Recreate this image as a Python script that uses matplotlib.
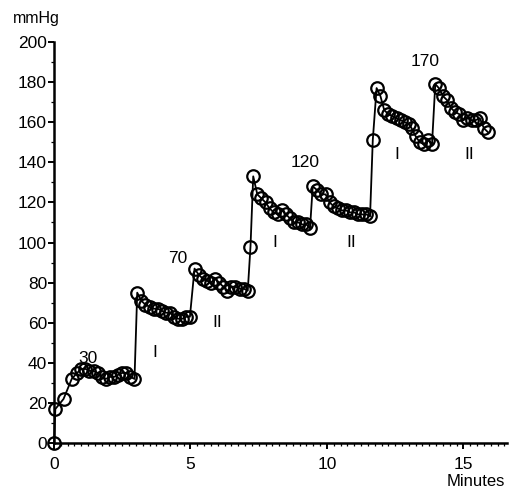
import matplotlib.pyplot as plt
from matplotlib.ticker import MultipleLocator

plt.rcParams['font.family'] = ['Liberation Sans', 'DejaVu Sans']

# time in minutes, pressure in mmHg
minutes = [0, 0.05, 0.35, 0.65, 0.85, 1.0, 1.15, 1.3, 1.45, 1.6, 1.75, 1.9, 2.05,
           2.2, 2.35, 2.5, 2.65, 2.8, 2.95,
           3.05, 3.2, 3.35, 3.5, 3.65, 3.8, 3.95, 4.1, 4.25, 4.4, 4.55, 4.7, 4.85, 4.98,
           5.15, 5.3, 5.45, 5.6, 5.75, 5.9, 6.05, 6.2, 6.35, 6.5, 6.65, 6.8, 6.95, 7.1,
           7.2, 7.3,
           7.45, 7.6, 7.75, 7.9, 8.05, 8.2, 8.35, 8.5, 8.65, 8.8, 8.95, 9.1, 9.25, 9.38,
           9.48, 9.65, 9.8, 9.95, 10.1, 10.25, 10.4, 10.55, 10.7, 10.85, 11.0, 11.15,
           11.3, 11.45, 11.58,
           11.68, 11.82, 11.96,
           12.1, 12.25, 12.4, 12.55, 12.7, 12.85, 13.0, 13.1, 13.25, 13.4, 13.55, 13.7, 13.85,
           13.97, 14.1, 14.25, 14.4, 14.55, 14.7, 14.85, 15.0, 15.15, 15.3, 15.45, 15.6,
           15.75, 15.9]
pressure = [0, 17, 22, 32, 35, 37, 37, 36, 36, 35, 33, 32, 33,
            33, 34, 35, 35, 33, 32,
            75, 71, 69, 68, 67, 67, 66, 65, 65, 63, 62, 62, 63, 63,
            87, 84, 82, 81, 80, 82, 80, 78, 76, 78, 78, 77, 77, 76,
            98, 133,
            124, 122, 120, 117, 115, 114, 116, 114, 112, 110, 110, 109, 109, 107,
            128, 126, 124, 124, 120, 118, 117, 116, 116, 115, 115, 114,
            114, 114, 113,
            151, 177, 173,
            166, 164, 163, 162, 161, 160, 159, 157, 153, 150, 149, 151, 149,
            179, 177, 173, 171, 167, 165, 164, 161, 162, 161, 161, 162,
            157, 155]

step_labels = ['30', '70', '120', '170']
step_x = [1.25, 4.55, 9.2, 13.6]
step_y = [42, 92, 140, 190]

phase_labels = ['I', 'II', 'I', 'II', 'I', 'II']
phase_x = [3.7, 6.0, 8.1, 10.9, 12.55, 15.2]
phase_y = [45, 60, 100, 100, 144, 144]

fig = plt.figure(figsize=(5.19, 4.99), dpi=100)
ax = fig.add_axes([0.104, 0.112, 0.873, 0.804])

ax.plot(minutes, pressure, color='black', lw=1.3, marker='o', ms=9,
        mfc='none', mec='black', mew=1.6, clip_on=False)

for lab, x, y in zip(step_labels, step_x, step_y):
    ax.text(x, y, lab, ha='center', va='center', fontsize=12.5)
for lab, x, y in zip(phase_labels, phase_x, phase_y):
    ax.text(x, y, lab, ha='center', va='center', fontsize=12.5)

ax.set_xlim(0, 16.6)
ax.set_ylim(0, 200)
ax.spines['top'].set_visible(False)
ax.spines['right'].set_visible(False)
ax.spines['left'].set_linewidth(1.8)
ax.spines['bottom'].set_linewidth(1.8)
ax.xaxis.set_major_locator(MultipleLocator(5))
ax.xaxis.set_minor_locator(MultipleLocator(0.25))
ax.yaxis.set_major_locator(MultipleLocator(20))
ax.yaxis.set_minor_locator(MultipleLocator(10))
ax.tick_params(which='major', length=4, width=1.4, labelsize=12.5)
ax.tick_params(axis='y', which='major', pad=1)
ax.tick_params(axis='x', which='major', pad=6)
ax.tick_params(which='minor', length=2, width=0.9)

fig.text(0.025, 0.962, 'mmHg', fontsize=11.5, ha='left', va='center')
fig.text(0.973, 0.035, 'Minutes', fontsize=12, ha='right', va='center')

plt.savefig('out.png', dpi=100)
